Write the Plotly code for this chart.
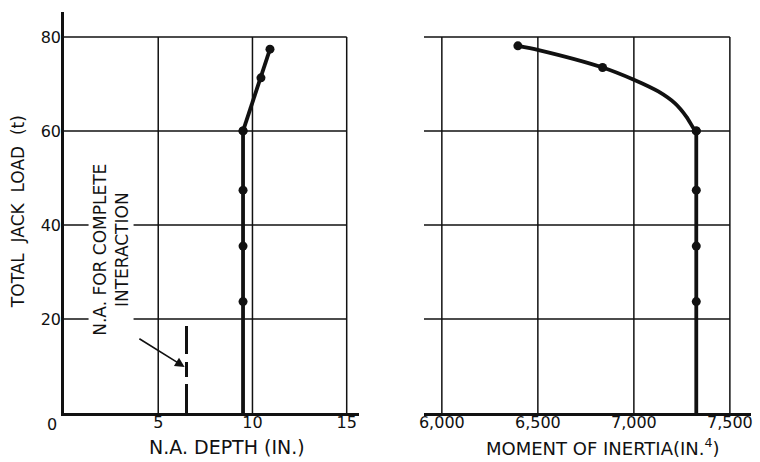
import plotly.graph_objects as go

# ---- data ----
load_vals = [23.7, 35.5, 47.4, 60.0]
na_depth_lower = [9.5, 9.5, 9.5, 9.5]
na_depth_upper_x = [9.5, 10.45, 10.93]
na_depth_upper_y = [60.0, 71.3, 77.4]
na_line_x = [9.5, 9.5]
na_line_y = [0, 60]

moi_lower = [7325, 7325, 7325, 7325]
moi_upper_pts_x = [7325, 6837, 6396]
moi_upper_pts_y = [60.0, 73.5, 78.1]
moi_curve_x = [7325, 7317, 7274, 7213, 7127, 7000, 6837, 6504, 6396]
moi_curve_y = [60.0, 60.2, 63.0, 65.9, 68.4, 70.9, 73.5, 77.2, 78.1]
moi_line_x = [7325, 7325]
moi_line_y = [0, 60]

complete_na_x = [6.5, 6.5]
complete_na_y = [18.5, 0]

y_ticks = [20, 40, 60, 80]
x1_ticks = [5, 10, 15]
x1_grid = [5, 10, 15]
x2_ticks = [6000, 6500, 7000, 7500]
x2_ticktext = ["6,000", "6,500", "7,000", "7,500"]

X1_RANGE = [0, 15.66]
X2_RANGE = [5907, 7610]
Y_RANGE = [0, 85.3]

INK = "#111111"
FONT = "DejaVu Sans"

fig = go.Figure()

# left panel
fig.add_trace(go.Scatter(x=na_line_x, y=na_line_y, mode="lines",
                         line=dict(color=INK, width=3.8), xaxis="x", yaxis="y"))
fig.add_trace(go.Scatter(x=na_depth_upper_x, y=na_depth_upper_y, mode="lines+markers",
                         line=dict(color=INK, width=3.8), marker=dict(size=9, color=INK),
                         xaxis="x", yaxis="y"))
fig.add_trace(go.Scatter(x=na_depth_lower, y=load_vals, mode="markers",
                         marker=dict(size=9, color=INK), xaxis="x", yaxis="y"))
fig.add_trace(go.Scatter(x=complete_na_x, y=complete_na_y, mode="lines",
                         line=dict(color=INK, width=3, dash="28px,8px,15px,7px,30px,10px"),
                         xaxis="x", yaxis="y"))

# right panel
fig.add_trace(go.Scatter(x=moi_line_x, y=moi_line_y, mode="lines",
                         line=dict(color=INK, width=3.8), xaxis="x2", yaxis="y2"))
fig.add_trace(go.Scatter(x=moi_curve_x, y=moi_curve_y, mode="lines",
                         line=dict(color=INK, width=3.8, shape="spline", smoothing=0.8),
                         xaxis="x2", yaxis="y2"))
fig.add_trace(go.Scatter(x=moi_upper_pts_x, y=moi_upper_pts_y, mode="markers",
                         marker=dict(size=9, color=INK), xaxis="x2", yaxis="y2"))
fig.add_trace(go.Scatter(x=moi_lower, y=load_vals, mode="markers",
                         marker=dict(size=9, color=INK), xaxis="x2", yaxis="y2"))

shapes = []
grid = dict(color=INK, width=1.5)
top = max(y_ticks)
for v in x1_grid:
    shapes.append(dict(type="line", xref="x", yref="y", x0=v, x1=v, y0=0, y1=top,
                       line=grid, layer="below"))
for v in y_ticks:
    shapes.append(dict(type="line", xref="x", yref="y", x0=0, x1=max(x1_grid), y0=v, y1=v,
                       line=grid, layer="below"))
for v in x2_ticks:
    shapes.append(dict(type="line", xref="x2", yref="y2", x0=v, x1=v, y0=0, y1=top,
                       line=grid, layer="below"))
for v in y_ticks:
    shapes.append(dict(type="line", xref="x2", yref="y2", x0=X2_RANGE[0], x1=max(x2_ticks),
                       y0=v, y1=v, line=grid, layer="below"))

annotations = [
    dict(text="N.A. FOR COMPLETE<br>INTERACTION", xref="x", yref="y", x=2.49, y=34.7,
         textangle=-90, showarrow=False, font=dict(family=FONT, size=17, color=INK),
         bgcolor="white", borderpad=1, align="center"),
    dict(text="", xref="x", yref="y", x=6.40, y=9.8, axref="x", ayref="y", ax=3.92, ay=16.0,
         showarrow=True, arrowhead=2, arrowsize=1.2, arrowwidth=1.6, arrowcolor=INK),
    dict(text="0", xref="x", yref="y", x=0, y=0, xshift=-12, yshift=-11, showarrow=False,
         font=dict(family=FONT, size=16, color=INK)),
    dict(text="N.A. DEPTH (IN.)", xref="paper", yref="paper", x=(227 - 64) / 689,
         y=(462 - 49 - 447) / 401, showarrow=False, xanchor="center", yanchor="middle",
         font=dict(family=FONT, size=19, color=INK)),
    dict(text="MOMENT OF INERTIA(IN.<sup>4</sup>)", xref="paper", yref="paper",
         x=(605 - 64) / 689, y=(462 - 49 - 447) / 401, showarrow=False,
         xanchor="center", yanchor="middle", font=dict(family=FONT, size=18, color=INK)),
    dict(text="TOTAL  JACK  LOAD  (t)", xref="paper", yref="paper", x=(18 - 64) / 689,
         y=(413 - 212) / 401, textangle=-90, showarrow=False, xanchor="center",
         yanchor="middle", font=dict(family=FONT, size=17, color=INK)),
]

axis_common = dict(showgrid=False, zeroline=False, ticks="", linecolor=INK, linewidth=2.5,
                   tickfont=dict(family=FONT, size=16, color=INK))

fig.update_layout(
    width=760, height=462,
    margin=dict(l=64, r=7, t=12, b=49),
    paper_bgcolor="white", plot_bgcolor="white",
    showlegend=False,
    xaxis=dict(domain=[0, 0.4296], range=X1_RANGE, tickvals=x1_ticks, showline=True,
               anchor="y", ticklabelstandoff=-7, **axis_common),
    yaxis=dict(domain=[0, 1], range=Y_RANGE, tickvals=y_ticks, showline=True,
               anchor="x", ticklabelstandoff=-3, **axis_common),
    xaxis2=dict(domain=[0.524, 1], range=X2_RANGE, tickvals=x2_ticks, ticktext=x2_ticktext,
                showline=True, anchor="y2", ticklabelstandoff=-7, **axis_common),
    yaxis2=dict(domain=[0, 1], range=Y_RANGE, showline=False, showticklabels=False,
                anchor="x2", **{k: v for k, v in axis_common.items() if k not in ("linecolor", "linewidth")}),
    shapes=shapes,
    annotations=annotations,
    font=dict(family=FONT, color=INK),
)

fig.write_html("out.html")
